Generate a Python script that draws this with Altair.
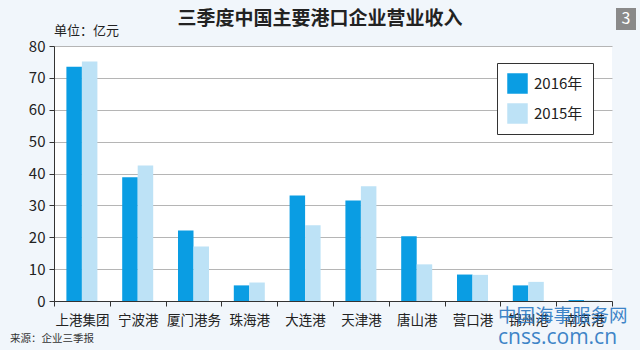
import altair as alt
import pandas as pd

ports = ["上港集团", "宁波港", "厦门港务", "珠海港", "大连港", "天津港", "唐山港", "营口港", "锦州港", "南京港"]
v2016 = [73.5, 38.8, 22.1, 4.9, 33.1, 31.5, 20.3, 8.3, 4.9, 0.3]
v2015 = [75.1, 42.5, 17.1, 5.8, 23.8, 36.0, 11.5, 8.2, 6.0, 0.2]
years = ["2016年", "2015年"]
colors = ["#0a9de3", "#bde2f6"]

rows = []
for p, a, b in zip(ports, v2016, v2015):
    rows.append({"port": p, "year": years[0], "value": a})
    rows.append({"port": p, "year": years[1], "value": b})
df = pd.DataFrame(rows)

FONT = "Noto Sans CJK SC"

bars = alt.Chart(df).mark_bar(size=15.5).encode(
    x=alt.X("port:N", sort=ports, title=None,
            scale=alt.Scale(paddingInner=0, paddingOuter=0),
            axis=alt.Axis(labelAngle=0, tickBand="extent", labelFontSize=13.5,
                          labelColor="#222", labelPadding=7, tickSize=5,
                          domainColor="#333", tickColor="#333", labelFont=FONT)),
    xOffset=alt.XOffset("year:N", sort=years,
                        scale=alt.Scale(paddingInner=0, paddingOuter=0.8)),
    y=alt.Y("value:Q", title=None,
            scale=alt.Scale(domain=[0, 80], nice=False),
            axis=alt.Axis(values=[0, 10, 20, 30, 40, 50, 60, 70, 80], labelFontSize=15,
                          labelColor="#222", tickSize=5, labelPadding=4,
                          domainColor="#333", tickColor="#333", gridColor="#b5b5b5",
                          labelFont=FONT)),
    color=alt.Color("year:N", sort=years,
                    scale=alt.Scale(domain=years, range=colors),
                    legend=alt.Legend(title=None, orient="none", legendX=443, legendY=17,
                                      symbolType="square", symbolSize=420,
                                      symbolStrokeWidth=0, labelFontSize=15,
                                      labelFont=FONT, labelColor="#222",
                                      rowPadding=9, padding=10, offset=0,
                                      strokeColor="#333", fillColor="white",
                                      symbolOffset=0, labelOffset=6)),
)

title = alt.Chart(pd.DataFrame({"t": ["三季度中国主要港口企业营业收入"]})).mark_text(
    font=FONT, fontSize=19, fontWeight="bold", color="#222", align="center", baseline="middle"
).encode(text="t:N", x=alt.value(266), y=alt.value(-27))

unit = alt.Chart(pd.DataFrame({"t": ["单位：亿元"]})).mark_text(
    font=FONT, fontSize=13, color="#222", align="left", baseline="middle"
).encode(text="t:N", x=alt.value(0), y=alt.value(-15))

badge = alt.Chart(pd.DataFrame({"t": ["3"]})).mark_rect(color="#8a8a8a").encode(
    x=alt.value(562), x2=alt.value(582), y=alt.value(-38), y2=alt.value(-16))
badge_t = alt.Chart(pd.DataFrame({"t": ["3"]})).mark_text(
    font=FONT, fontSize=16, color="white", align="center", baseline="middle"
).encode(text="t:N", x=alt.value(572), y=alt.value(-27))

source = alt.Chart(pd.DataFrame({"t": ["来源：企业三季报"]})).mark_text(
    font=FONT, fontSize=10.5, color="#333", align="left", baseline="middle"
).encode(text="t:N", x=alt.value(-44), y=alt.value(293))

wm1 = alt.Chart(pd.DataFrame({"t": ["中国海事服务网"]})).mark_text(
    font=FONT, fontSize=18.5, color="#2b78c2", align="left", baseline="middle", opacity=0.9
).encode(text="t:N", x=alt.value(444), y=alt.value(270))
wm2 = alt.Chart(pd.DataFrame({"t": ["cnss.com.cn"]})).mark_text(
    font="Open Sans", fontSize=21, color="#2b78c2", align="left", baseline="middle", opacity=0.9
).encode(text="t:N", x=alt.value(444), y=alt.value(292))

chart = alt.layer(bars, title, unit, badge, badge_t, source, wm1, wm2).properties(
    width=558, height=255,
    autosize=alt.AutoSizeParams(type="none"),
    padding={"left": 54, "top": 46, "right": 28, "bottom": 49},
    background="#f1f6fb",
).configure_view(fill="white", stroke=None)

chart.save("out.html", embed_options={"renderer": "svg", "actions": False})
